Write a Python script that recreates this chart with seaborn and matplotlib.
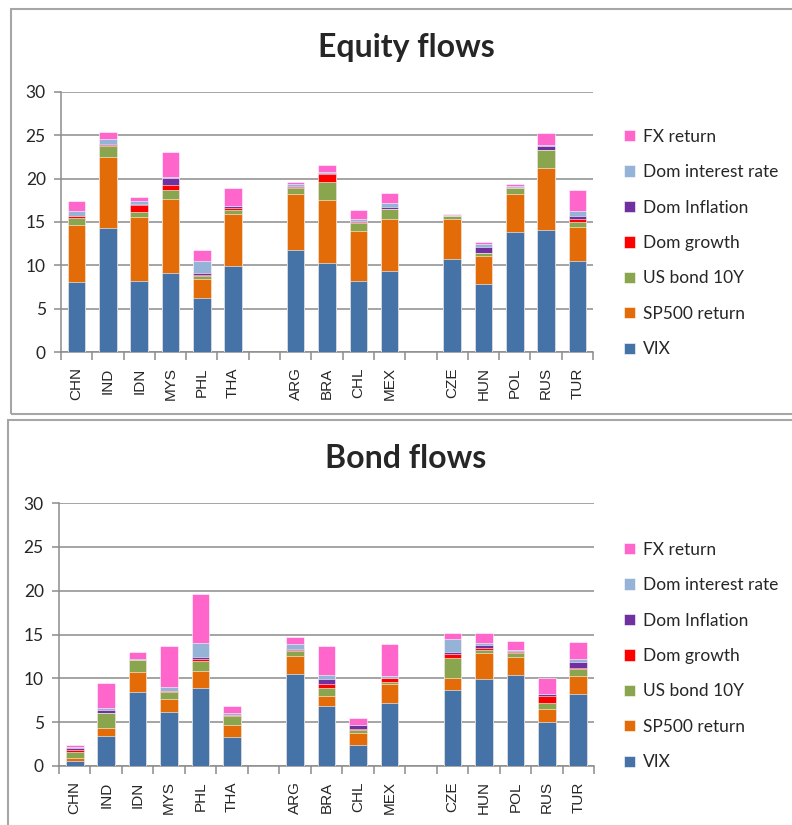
import numpy as np
import pandas as pd
import matplotlib
matplotlib.use("Agg")
import matplotlib.pyplot as plt
from matplotlib.patches import Rectangle
import seaborn as sns

sns.set_style("white")
plt.rcParams["font.family"] = ["Lato", "DejaVu Sans"]

# Country slots; blank entries separate Asia, Latin America and Europe
order = ["CHN", "IND", "IDN", "MYS", "PHL", "THA", " ",
         "ARG", "BRA", "CHL", "MEX", "  ",
         "CZE", "HUN", "POL", "RUS", "TUR"]
countries = ["CHN", "IND", "IDN", "MYS", "PHL", "THA",
             "ARG", "BRA", "CHL", "MEX",
             "CZE", "HUN", "POL", "RUS", "TUR"]

factors = ["VIX", "SP500 return", "US bond 10Y", "Dom growth",
           "Dom Inflation", "Dom interest rate", "FX return"]
colors = ["#4572A7", "#E36C09", "#89A54E", "#FF0000",
          "#7030A0", "#95B3D7", "#FF66CC"]

# Equity flows: contribution of each factor
eq_vix      = [8.05, 14.35, 8.2, 9.1, 6.2, 9.95, 11.8, 10.25, 8.2, 9.4, 10.75, 7.9, 13.8, 14.1, 10.45]
eq_sp500    = [6.6, 8.1, 7.35, 8.6, 2.2, 6.0, 6.4, 7.3, 5.8, 5.9, 4.55, 3.2, 4.4, 7.15, 4.0]
eq_usbond   = [0.85, 1.35, 0.65, 1.05, 0.4, 0.45, 0.7, 2.05, 0.85, 1.2, 0.4, 0.3, 0.7, 2.05, 0.5]
eq_growth   = [0.2, 0.05, 0.75, 0.5, 0.1, 0.25, 0.1, 0.95, 0.2, 0.05, 0.0, 0.05, 0.05, 0.05, 0.35]
eq_infl     = [0.05, 0.15, 0.1, 0.85, 0.2, 0.2, 0.15, 0.05, 0.05, 0.15, 0.05, 0.65, 0.1, 0.45, 0.4]
eq_interest = [0.5, 0.6, 0.35, 0.05, 1.35, 0.05, 0.25, 0.15, 0.25, 0.5, 0.05, 0.35, 0.05, 0.05, 0.55]
eq_fx       = [1.15, 0.75, 0.5, 2.9, 1.35, 2.0, 0.2, 0.85, 1.05, 1.2, 0.15, 0.2, 0.3, 1.4, 2.5]

# Bond flows: contribution of each factor
bd_vix      = [0.57, 3.47, 8.39, 6.18, 8.92, 3.32, 10.45, 6.88, 2.43, 7.22, 8.7, 9.87, 10.37, 5.01, 8.2]
bd_sp500    = [0.38, 0.88, 2.36, 1.48, 1.87, 1.33, 2.15, 1.14, 1.37, 2.16, 1.36, 3.0, 2.05, 1.48, 2.02]
bd_usbond   = [0.65, 1.67, 1.34, 0.73, 1.18, 1.03, 0.5, 0.88, 0.34, 0.19, 2.21, 0.38, 0.49, 0.69, 0.83]
bd_growth   = [0.23, 0.08, 0.03, 0.15, 0.19, 0.12, 0.1, 0.48, 0.08, 0.46, 0.53, 0.19, 0.08, 0.8, 0.15]
bd_infl     = [0.27, 0.27, 0.03, 0.06, 0.27, 0.03, 0.1, 0.53, 0.41, 0.03, 0.26, 0.31, 0.15, 0.22, 0.69]
bd_interest = [0.07, 0.3, 0.05, 0.36, 1.56, 0.23, 0.65, 0.5, 0.07, 0.22, 1.37, 0.23, 0.08, 0.04, 0.34]
bd_fx       = [0.27, 2.75, 0.76, 4.69, 5.61, 0.8, 0.72, 3.23, 0.77, 3.69, 0.72, 1.17, 1.06, 1.79, 1.86]

equity = [eq_vix, eq_sp500, eq_usbond, eq_growth, eq_infl, eq_interest, eq_fx]
bond = [bd_vix, bd_sp500, bd_usbond, bd_growth, bd_infl, bd_interest, bd_fx]

W, H = 792, 825
fig = plt.figure(figsize=(W / 100, H / 100), dpi=100)

def fx(px):
    return px / W

def fy(py):
    return 1 - py / H

GRID = "#8C8C8C"


def draw_panel(series, title, ax_box, title_y, legend_y):
    left, top, right, bottom = ax_box
    ax = fig.add_axes([fx(left), fy(bottom), fx(right - left), (bottom - top) / H])
    df = pd.DataFrame({"country": countries})
    for name, vals in zip(factors, series):
        df[name] = vals
    cum = df[factors].cumsum(axis=1)
    cum["country"] = df["country"]

    # stacked bars: draw cumulative totals from the top layer down
    for name, col in reversed(list(zip(factors, colors))):
        sns.barplot(data=cum, x="country", y=name, order=order, color=col,
                    saturation=1, width=0.56, errorbar=None, ax=ax,
                    edgecolor="white", linewidth=0.4, label=name, zorder=3)

    ax.set_xlim(-0.5, len(order) - 0.5)
    ax.set_ylim(0, 30)
    ax.set_yticks(np.arange(0, 31, 5))
    ax.yaxis.grid(True, color=GRID, linewidth=1.1, zorder=0)
    ax.xaxis.grid(False)
    ax.set_xlabel("")
    ax.set_ylabel("")
    for s in ["top", "right"]:
        ax.spines[s].set_visible(False)
    for s in ["left", "bottom"]:
        ax.spines[s].set_color(GRID)
        ax.spines[s].set_linewidth(1.1)

    ax.set_xticks(np.arange(-0.5, len(order), 1))
    ax.set_xticklabels([])
    ax.set_xticks(np.arange(len(order)), minor=True)
    ax.set_xticklabels(order, minor=True, rotation=90,
                       family=["Liberation Sans", "DejaVu Sans"], fontsize=11)
    ax.tick_params(axis="x", which="major", length=6, width=1.1, color=GRID,
                   direction="out", bottom=True)
    ax.tick_params(axis="x", which="minor", length=0, pad=11)
    ax.tick_params(axis="y", length=5, width=1.1, color=GRID, direction="out",
                   left=True, labelsize=12.5, pad=6)

    fig.text(fx(406), fy(title_y), title, ha="center", va="center",
             fontsize=23, fontweight="bold")

    handles, labels = ax.get_legend_handles_labels()
    ax.legend(handles, labels, loc="center left", frameon=False,
              bbox_to_anchor=(fx(624), fy(legend_y)),
              bbox_transform=fig.transFigure, fontsize=12.5,
              handlelength=0.63, handleheight=0.63, handletextpad=0.45,
              labelspacing=1.12, borderpad=0, borderaxespad=0)
    return ax


# panel frames
fig.add_artist(Rectangle((fx(11), fy(414)), fx(800 - 11), (414 - 9) / H,
                         transform=fig.transFigure, fill=False,
                         edgecolor="#A6A6A6", linewidth=1.5))
fig.add_artist(Rectangle((fx(8), fy(840)), fx(800 - 8), (840 - 420) / H,
                         transform=fig.transFigure, fill=False,
                         edgecolor="#A6A6A6", linewidth=1.5))

draw_panel(equity, "Equity flows", (61, 92, 593, 352), 47, 243)
draw_panel(bond, "Bond flows", (59, 503, 594, 766), 458, 656)

fig.savefig("out.png", dpi=100)
